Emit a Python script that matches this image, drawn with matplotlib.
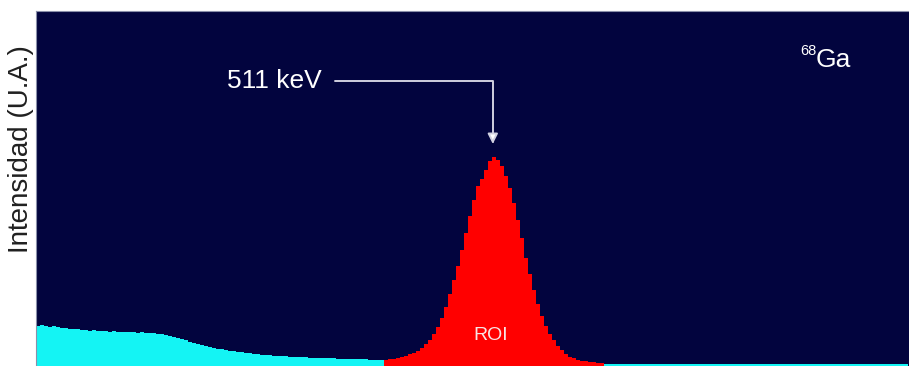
import numpy as np
import matplotlib.pyplot as plt

plt.rcParams['font.family'] = ['Liberation Sans', 'DejaVu Sans']

# counts per channel (arbitrary units)
low_counts = [40, 41, 40, 39, 40, 39, 38, 38, 37, 37, 37, 36, 36, 35, 36, 35, 35, 35, 34, 35,
              34, 34, 34, 34, 34, 33, 34, 33, 33, 33, 32, 32, 31, 30, 29, 28, 27, 26, 24, 23,
              22, 21, 20, 19, 18, 17, 17, 16, 15, 15, 14, 14, 13, 13, 12, 12, 11, 11, 11, 10,
              10, 10, 10, 9, 9, 9, 9, 9, 8, 8, 8, 8, 8, 8, 8, 7, 7, 7, 7, 7,
              7, 7, 7, 6, 6, 6, 6]
roi_counts = [6, 7, 7, 8, 9, 10, 12, 13, 15, 18, 22, 26, 32, 39, 48, 59, 72, 86, 100, 116,
              133, 150, 166, 180, 187, 196, 205, 209, 206, 200, 190, 178, 163, 146, 128, 108, 92, 76, 62, 50,
              40, 32, 26, 20, 16, 12, 9, 8, 6, 5, 5, 4, 4, 3, 3]
high_counts = [2] * 76

peak_channel = 114.5
label_peak = '511 keV'
isotope_mass = '68'
isotope_sym = 'Ga'

bg = '#02043e'
cyan = '#14f4f4'
red = '#ff0000'

fig = plt.figure(figsize=(9.09, 3.66), dpi=100)
ax = fig.add_axes([36 / 909, 0, 873 / 909, 355 / 366])
ax.set_facecolor(bg)

n_low = len(low_counts)
n_roi = len(roi_counts)
n_high = len(high_counts)
e_low = np.arange(n_low + 1)
e_roi = np.arange(n_low, n_low + n_roi + 1)
e_high = np.arange(n_low + n_roi, n_low + n_roi + n_high + 1)

ax.stairs(low_counts, e_low, fill=True, color=cyan, lw=0)
ax.stairs(roi_counts, e_roi, fill=True, color=red, lw=0)
ax.stairs(high_counts, e_high, fill=True, color=cyan, lw=0)

ax.set_xlim(0, 218.25)
ax.set_ylim(0, 355)
ax.set_xticks([])
ax.set_yticks([])
for s in ['right', 'bottom']:
    ax.spines[s].set_visible(False)
for s in ['left', 'top']:
    ax.spines[s].set_color('#8a90aa')
    ax.spines[s].set_linewidth(0.8)

# annotation for the photopeak
ax.text(71.5, 285, label_peak, color='white', fontsize=19, ha='right', va='center')
ax.annotate('', xy=(peak_channel - 0.3, 222), xytext=(74.8, 285),
            arrowprops=dict(arrowstyle='-|>,head_length=0.6,head_width=0.3',
                            connectionstyle='angle,angleA=0,angleB=90,rad=0',
                            color='#d0d0e0', lw=1.4, shrinkA=0, shrinkB=0,
                            fc='white'))

ax.text(195, 306, isotope_sym, color='white', fontsize=19, ha='left', va='center')
ax.text(191, 315, isotope_mass, color='white', fontsize=10.5, ha='left', va='center')
ax.text(113.6, 30.5, 'ROI', color='#f8e4e4', fontsize=14, ha='center', va='center')

fig.text(21 / 909, 1 - 149 / 366, 'Intensidad (U.A.)', rotation=90, fontsize=20,
         color='#202020', ha='center', va='center')

fig.savefig('out.png', dpi=100, facecolor='white')
